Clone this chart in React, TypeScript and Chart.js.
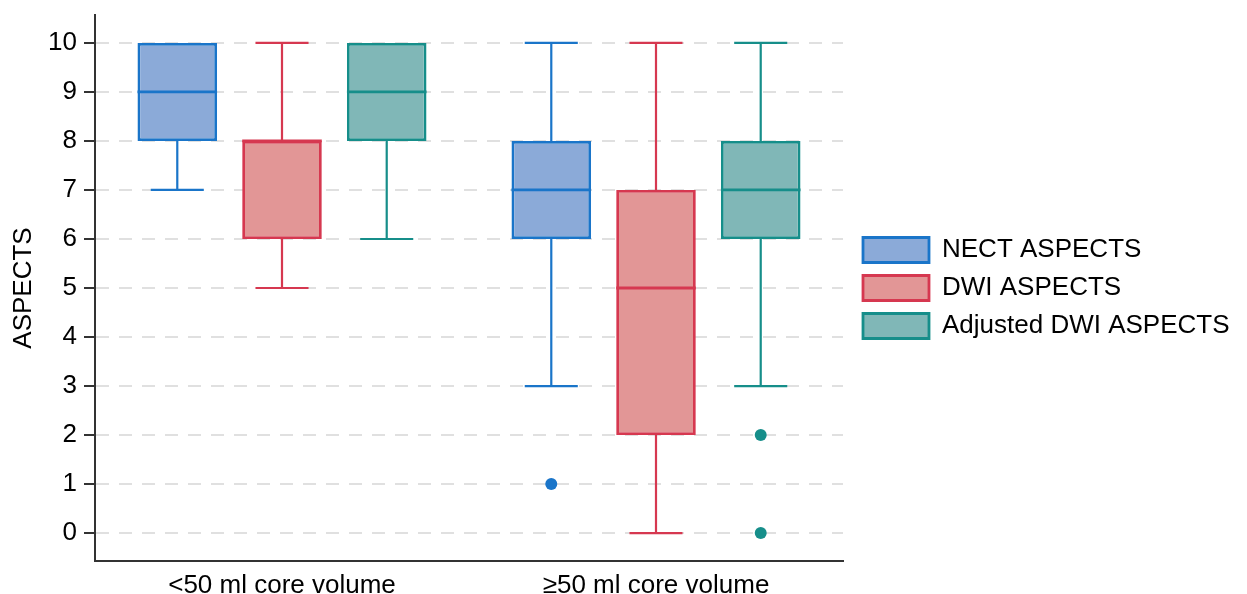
import React, { useEffect, useRef } from "react";
import { Chart, registerables } from "chart.js";

Chart.register(...registerables);

const categories = ["<50 ml core volume", "≥50 ml core volume"];
const seriesNames = ["NECT ASPECTS", "DWI ASPECTS", "Adjusted DWI ASPECTS"];

const nectMin = [7, 3];
const nectQ1 = [8, 6];
const nectMedian = [9, 7];
const nectQ3 = [10, 8];
const nectMax = [10, 10];
const nectOutliers: number[][] = [[], [1]];

const dwiMin = [5, 0];
const dwiQ1 = [6, 2];
const dwiMedian = [8, 5];
const dwiQ3 = [8, 7];
const dwiMax = [10, 10];
const dwiOutliers: number[][] = [[], []];

const adjMin = [6, 3];
const adjQ1 = [8, 6];
const adjMedian = [9, 7];
const adjQ3 = [10, 8];
const adjMax = [10, 10];
const adjOutliers: number[][] = [[], [2, 0]];

const yTicks = [0, 1, 2, 3, 4, 5, 6, 7, 8, 9, 10];

const borderColors = ["#1a75c9", "#d63850", "#168e8a"];
const fillColors = ["#8baad8", "#e29696", "#80b7b7"];

const FONT = "'Liberation Sans', Arial, Helvetica, sans-serif";
const LEGEND_WIDTH = 404;

type Stats = {
  min: number[];
  q1: number[];
  median: number[];
  q3: number[];
  max: number[];
  outliers: number[][];
};

const stats: Stats[] = [
  { min: nectMin, q1: nectQ1, median: nectMedian, q3: nectQ3, max: nectMax, outliers: nectOutliers },
  { min: dwiMin, q1: dwiQ1, median: dwiMedian, q3: dwiQ3, max: dwiMax, outliers: dwiOutliers },
  { min: adjMin, q1: adjQ1, median: adjMedian, q3: adjQ3, max: adjMax, outliers: adjOutliers },
];

const whiskerPlugin = {
  id: "whiskers",
  beforeLayout(chart: any) {
    const lg = chart.legend;
    if (lg && !lg._fixedWidth) {
      const orig = lg.fit.bind(lg);
      lg.fit = function () {
        orig();
        this.width = LEGEND_WIDTH;
      };
      lg._fixedWidth = true;
    }
  },
  afterUpdate(chart: any) {
    const legend = chart.legend;
    if (legend) {
      legend.left += 8;
      legend.right += 8;
    }
  },
  beforeDatasetsDraw(chart: any) {
    const ctx = chart.ctx;
    const y = chart.scales.y;
    stats.forEach((s, di) => {
      const meta = chart.getDatasetMeta(di);
      meta.data.forEach((bar: any, i: number) => {
        const x = bar.x;
        const capHalf = bar.width / 3;
        ctx.save();
        ctx.strokeStyle = borderColors[di];
        ctx.lineWidth = 2.2;
        ctx.beginPath();
        if (s.max[i] > s.q3[i]) {
          const a = y.getPixelForValue(s.q3[i]);
          const b = y.getPixelForValue(s.max[i]);
          ctx.moveTo(x, a);
          ctx.lineTo(x, b);
          ctx.moveTo(x - capHalf, b);
          ctx.lineTo(x + capHalf, b);
        }
        if (s.min[i] < s.q1[i]) {
          const a = y.getPixelForValue(s.q1[i]);
          const b = y.getPixelForValue(s.min[i]);
          ctx.moveTo(x, a);
          ctx.lineTo(x, b);
          ctx.moveTo(x - capHalf, b);
          ctx.lineTo(x + capHalf, b);
        }
        ctx.stroke();
        ctx.restore();
      });
    });
  },
  afterDatasetsDraw(chart: any) {
    const ctx = chart.ctx;
    const y = chart.scales.y;
    stats.forEach((s, di) => {
      const meta = chart.getDatasetMeta(di);
      meta.data.forEach((bar: any, i: number) => {
        const x = bar.x;
        const half = bar.width / 2;
        ctx.save();
        ctx.strokeStyle = borderColors[di];
        ctx.lineWidth = 2.8;
        const m = y.getPixelForValue(s.median[i]);
        ctx.beginPath();
        ctx.moveTo(x - half, m);
        ctx.lineTo(x + half, m);
        ctx.stroke();
        ctx.fillStyle = borderColors[di];
        s.outliers[i].forEach((v) => {
          ctx.beginPath();
          ctx.arc(x, y.getPixelForValue(v), 6, 0, Math.PI * 2);
          ctx.fill();
        });
        ctx.restore();
      });
    });
  },
};

export default function App() {
  const canvasRef = useRef<HTMLCanvasElement | null>(null);

  useEffect(() => {
    if (!canvasRef.current) return;
    const datasets = stats.map((s, di) => ({
      label: seriesNames[di],
      data: categories.map((_, i) => [s.q1[i], s.q3[i]]),
      backgroundColor: fillColors[di],
      borderColor: borderColors[di],
      borderWidth: 2.8,
      borderSkipped: false,
      barPercentage: 0.76,
      categoryPercentage: 0.84,
    }));

    const chart = new Chart(canvasRef.current, {
      type: "bar",
      data: { labels: categories, datasets },
      options: {
        animation: false,
        responsive: false,
        maintainAspectRatio: false,
        color: "#000",
        layout: { padding: { top: 15, left: 0, right: 0, bottom: 0 } },
        plugins: {
          tooltip: { enabled: false },
          legend: {
            position: "right",
            align: "center",
            fullSize: false,
            labels: {
              boxWidth: 66,
              boxHeight: 25,
              padding: 12,
              color: "#000",
              font: { size: 26, family: FONT },
            },
          },
        },
        scales: {
          x: {
            grid: { display: false, drawTicks: false },
            border: { display: true, color: "#333", width: 2 },
            ticks: { color: "#000", font: { size: 26, family: FONT }, padding: 9 },
            afterFit: (s: any) => {
              s.height = 33;
              s.paddingLeft = 0;
              s.paddingRight = 0;
            },
          },
          y: {
            min: -0.57,
            max: 10.57,
            afterBuildTicks: (s: any) => {
              s.ticks = yTicks.map((v) => ({ value: v }));
            },
            grid: {
              color: "#e0e0e0",
              lineWidth: 2,
              drawTicks: true,
              tickLength: 11,
              tickColor: "#333",
              tickWidth: 2,
            },
            border: { display: true, color: "#333", width: 2, dash: [13, 10] },
            ticks: { color: "#000", font: { size: 26, family: FONT }, padding: 7 },
            title: {
              display: true,
              text: "ASPECTS",
              color: "#000",
              font: { size: 26, family: FONT },
              padding: { top: 8, bottom: 0 },
            },
            afterFit: (s: any) => {
              s.width = 95;
              s.paddingTop = 0;
              s.paddingBottom = 0;
            },
          },
        },
      },
      plugins: [whiskerPlugin],
    } as any);

    return () => chart.destroy();
  }, []);

  return (
    <div style={{ position: "fixed", left: 0, top: 0, width: 1247, height: 594, background: "#fff" }}>
      <canvas ref={canvasRef} width={1247} height={594} />
    </div>
  );
}
